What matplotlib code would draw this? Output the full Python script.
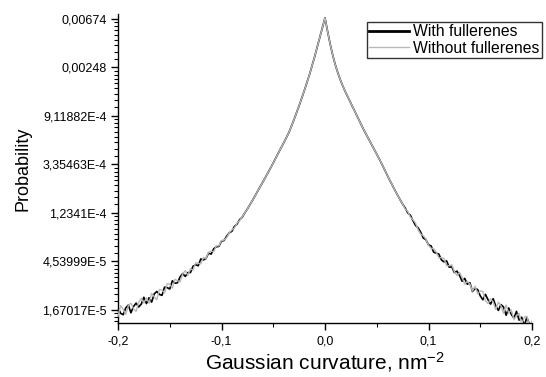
import numpy as np
import matplotlib
matplotlib.use("Agg")
import matplotlib.pyplot as plt
from matplotlib.ticker import FixedLocator, NullFormatter

plt.rcParams['font.family'] = ['Liberation Sans', 'DejaVu Sans']
plt.rcParams['mathtext.fontset'] = 'custom'
plt.rcParams['mathtext.rm'] = 'Liberation Sans'
plt.rcParams['mathtext.default'] = 'regular'

# ---------------- data ----------------
# Gaussian curvature grid (nm^-2), step 0.0025 from -0.2 to 0.2
curvature = np.round(np.linspace(-0.2, 0.2, 161), 4)

# natural log of probability
ln_prob_with = [
    -10.95, -11.07, -11.10, -10.96, -10.90, -11.06, -10.93, -10.86, -10.94, -10.88,
    -10.74, -10.87, -10.75, -10.84, -10.67, -10.62, -10.68, -10.70, -10.53, -10.54,
    -10.57, -10.40, -10.45, -10.44, -10.32, -10.25, -10.31, -10.23, -10.23, -10.10,
    -10.07, -10.09, -9.95, -9.97, -9.94, -9.83, -9.85, -9.74, -9.70, -9.69,
    -9.58, -9.57, -9.48, -9.41, -9.38, -9.28, -9.23, -9.14, -9.09, -9.00,
    -8.92, -8.83, -8.74, -8.645, -8.55, -8.455, -8.36, -8.265, -8.17, -8.07,
    -7.97, -7.865, -7.76, -7.66, -7.56, -7.455, -7.35, -7.215, -7.08, -6.935,
    -6.79, -6.635, -6.48, -6.315, -6.15, -5.965, -5.78, -5.58, -5.38, -5.18,
    -4.98,
    -5.26, -5.52, -5.75, -5.95, -6.12, -6.27, -6.40, -6.52, -6.63, -6.74,
    -6.85, -6.96, -7.07, -7.18, -7.29, -7.39, -7.49, -7.59, -7.69, -7.79,
    -7.89, -8.00, -8.11, -8.22, -8.325, -8.43, -8.53, -8.63, -8.725, -8.82,
    -8.90, -9.00, -9.05, -9.16, -9.26, -9.31, -9.40, -9.52, -9.55, -9.66,
    -9.68, -9.81, -9.83, -9.85, -9.97, -10.01, -9.99, -10.12, -10.11, -10.23,
    -10.20, -10.29, -10.41, -10.35, -10.47, -10.44, -10.62, -10.56, -10.58, -10.71,
    -10.79, -10.68, -10.79, -10.88, -10.77, -10.92, -11.01, -10.89, -10.94, -11.11,
    -10.96, -11.09, -11.17, -11.03, -11.21, -11.15, -11.32, -11.16, -11.29, -11.36,
]

ln_prob_without = [
    -11.13, -10.91, -10.99, -11.09, -10.91, -10.86, -10.98, -11.03, -10.84, -10.76,
    -10.86, -10.75, -10.86, -10.66, -10.73, -10.79, -10.58, -10.59, -10.65, -10.46,
    -10.47, -10.55, -10.37, -10.40, -10.42, -10.26, -10.19, -10.29, -10.15, -10.18,
    -10.03, -10.04, -10.05, -9.92, -9.94, -9.81, -9.79, -9.80, -9.68, -9.68,
    -9.57, -9.56, -9.51, -9.41, -9.35, -9.31, -9.21, -9.16, -9.08, -9.00,
    -8.92, -8.83, -8.74, -8.645, -8.55, -8.455, -8.36, -8.265, -8.17, -8.07,
    -7.97, -7.865, -7.76, -7.66, -7.56, -7.455, -7.35, -7.215, -7.08, -6.935,
    -6.79, -6.635, -6.48, -6.315, -6.15, -5.965, -5.78, -5.58, -5.38, -5.18,
    -4.98,
    -5.26, -5.52, -5.75, -5.95, -6.12, -6.27, -6.40, -6.52, -6.63, -6.74,
    -6.85, -6.96, -7.07, -7.18, -7.29, -7.39, -7.49, -7.59, -7.69, -7.79,
    -7.89, -8.00, -8.11, -8.22, -8.325, -8.43, -8.53, -8.63, -8.725, -8.82,
    -8.92, -8.97, -9.09, -9.14, -9.21, -9.35, -9.44, -9.47, -9.54, -9.67,
    -9.73, -9.74, -9.81, -9.93, -9.92, -9.94, -10.09, -10.09, -10.07, -10.21,
    -10.29, -10.23, -10.33, -10.47, -10.41, -10.47, -10.61, -10.51, -10.67, -10.61,
    -10.62, -10.81, -10.87, -10.77, -10.84, -10.99, -10.84, -10.91, -11.07, -10.90,
    -11.07, -11.00, -11.20, -11.12, -11.07, -11.30, -11.15, -11.13, -11.33, -11.23,
]

series_labels = ["With fullerenes", "Without fullerenes"]

x_tick_values = [-0.2, -0.1, 0.0, 0.1, 0.2]
x_tick_labels = ["-0,2", "-0,1", "0,0", "0,1", "0,2"]
y_tick_values = [1.67017e-5, 4.53999e-5, 1.2341e-4, 3.35463e-4, 9.11882e-4, 0.00248, 0.00674]
y_tick_labels = ["1,67017E-5", "4,53999E-5", "1,2341E-4", "3,35463E-4",
                 "9,11882E-4", "0,00248", "0,00674"]

# ---------------- figure ----------------
W, H = 546, 377
fig = plt.figure(figsize=(W / 100, H / 100), dpi=100)
ax_left, ax_right, ax_bottom, ax_top = 118, 532, 323, 14
ax = fig.add_axes([ax_left / W, (H - ax_bottom) / H,
                   (ax_right - ax_left) / W, (ax_bottom - ax_top) / H])

ax.plot(curvature, np.exp(ln_prob_with), color='black', lw=1.2,
        label=series_labels[0], zorder=3)
ax.plot(curvature, np.exp(ln_prob_without), color='#b8b8b8', lw=1.0,
        label=series_labels[1], zorder=4)

ax.set_yscale('log')
ax.set_xlim(-0.2, 0.2)
ax.set_ylim(np.exp(-11.27), np.exp(-4.90))

ax.set_xticks(x_tick_values)
ax.set_xticklabels(x_tick_labels)
ax.xaxis.set_minor_locator(FixedLocator([-0.15, -0.05, 0.05, 0.15]))

ax.yaxis.set_major_locator(FixedLocator(y_tick_values))
ax.set_yticklabels(y_tick_labels)
majors = [y_tick_values[0] / np.e] + list(y_tick_values) + [y_tick_values[-1] * np.e]
minor = []
for a, b in zip(majors[:-1], majors[1:]):
    for k in range(1, 9):
        minor.append(a + k * (b - a) / 9)
ax.yaxis.set_minor_locator(FixedLocator(minor))
ax.yaxis.set_minor_formatter(NullFormatter())

for side in ('top', 'right'):
    ax.spines[side].set_visible(False)
for side in ('left', 'bottom'):
    ax.spines[side].set_linewidth(1.0)

ax.tick_params(which='major', direction='out', length=5, width=1.0,
               labelsize=9, pad=3)
ax.tick_params(which='minor', direction='out', length=3, width=0.8)
ax.tick_params(axis='x', which='major', pad=4)

ax.set_ylabel("Probability", fontsize=13, labelpad=8)
ax.set_xlabel("Gaussian curvature, nm$^{-2}$", fontsize=15, labelpad=2)

leg = ax.legend(loc='upper left', bbox_to_anchor=(367 / W, 1 - 22 / H),
                bbox_transform=fig.transFigure, frameon=True, fancybox=False,
                shadow=False, fontsize=11.3, borderpad=0.15, handlelength=2.5,
                handletextpad=0.3, labelspacing=0.1, borderaxespad=0)
leg.get_frame().set_edgecolor('black')
leg.get_frame().set_linewidth(1.0)
leg.get_lines()[0].set_linewidth(2.0)
leg.get_lines()[1].set_linewidth(1.0)

fig.savefig("out.png", dpi=100)
